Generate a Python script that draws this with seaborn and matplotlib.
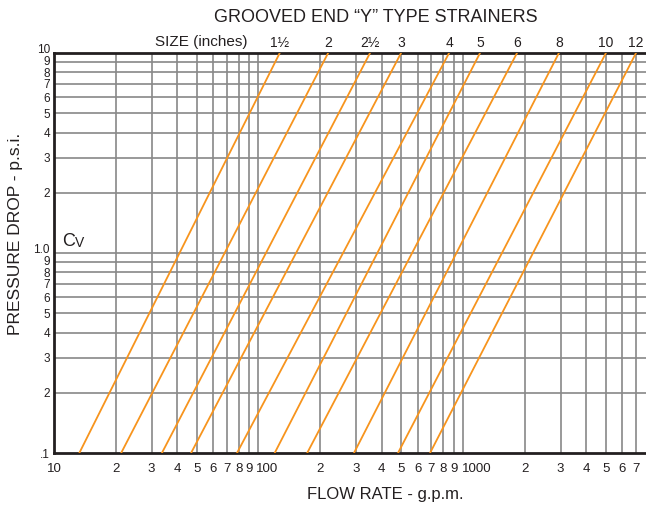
import pandas as pd
import seaborn as sns
from matplotlib import pyplot as plt
from matplotlib.ticker import NullLocator
from matplotlib.transforms import ScaledTranslation

# strainer sizes and flow (g.p.m.) read where each line meets 0.1 and 10 p.s.i.
sizes = ["1½", "2", "2½", "3", "4", "5", "6", "8", "10", "12"]
flow_at_low = [13.3, 21.3, 33.7, 46.8, 78.5, 120, 173, 293, 481, 690]
flow_at_high = [127, 219, 351, 498, 855, 1211, 1837, 2944, 5000, 7015]
drop_low = 0.1
drop_high = 10

x_ticks = [10, 20, 30, 40, 50, 60, 70, 80, 90,
           100, 200, 300, 400, 500, 600, 700, 800, 900,
           1000, 2000, 3000, 4000, 5000, 6000, 7000]
x_labels = ["10", "2", "3", "4", "5", "6", "7", "8", "9",
            "100", "2", "3", "4", "5", "6", "7", "8", "9",
            "1000", "2", "3", "4", "5", "6", "7"]
y_ticks = [0.1, 0.2, 0.3, 0.4, 0.5, 0.6, 0.7, 0.8, 0.9,
           1, 2, 3, 4, 5, 6, 7, 8, 9, 10]
y_labels = [".1", "2", "3", "4", "5", "6", "7", "8", "9",
            "1.0", "2", "3", "4", "5", "6", "7", "8", "9", "10"]

rows = []
for s, lo, hi in zip(sizes, flow_at_low, flow_at_high):
    rows.append({"size": s, "flow": lo, "drop": drop_low})
    rows.append({"size": s, "flow": hi, "drop": drop_high})
df = pd.DataFrame(rows)

sns.set_style("white")
plt.rcParams['font.family'] = ['Liberation Sans', 'DejaVu Sans']

fig = plt.figure(figsize=(6.46, 5.08), dpi=100)
ax = fig.add_axes([54 / 646, 55 / 508, 592 / 646, 400 / 508])
ax.set_xscale("log")
ax.set_yscale("log")

gray = "#888888"
for xv in x_ticks[1:]:
    ax.axvline(xv, color=gray, lw=1.2, zorder=1)
for yv in y_ticks[1:-1]:
    ax.axhline(yv, color=gray, lw=1.2, zorder=1)

sns.lineplot(data=df, x="flow", y="drop", units="size", estimator=None,
             sort=False, color="#F7941D", lw=1.3, ax=ax, zorder=3)

ax.set_xlim(10, 7850)
ax.set_ylim(0.1, 10)
ax.xaxis.set_minor_locator(NullLocator())
ax.yaxis.set_minor_locator(NullLocator())
ax.set_xticks(x_ticks, x_labels, fontsize=9.5)
ax.set_yticks(y_ticks, y_labels, fontsize=8.5)
ax.tick_params(axis="both", length=0, colors="#231f20")
ax.tick_params(axis="x", pad=7)
ax.tick_params(axis="y", pad=3)
ax.set_xlabel("")
ax.set_ylabel("")

# nudge crowded labels like the printed chart
for t in ax.get_xticklabels():
    if t.get_text() in ("100", "1000"):
        t.set_ha("left")
        dx = -2 / 72 if t.get_text() == "100" else -0.5 / 72
        t.set_transform(t.get_transform() + ScaledTranslation(dx, 0, fig.dpi_scale_trans))
for t in ax.get_yticklabels():
    shift = {"10": 3, "1.0": 3, "9": 1.5}.get(t.get_text(), 0)
    if shift:
        t.set_transform(t.get_transform() + ScaledTranslation(0, shift / 72, fig.dpi_scale_trans))

for side in ("left", "top", "bottom"):
    ax.spines[side].set_color("#231f20")
    ax.spines[side].set_linewidth(2)
ax.spines["right"].set_visible(False)

# size labels above the top edge
for s, hi in zip(sizes, flow_at_high):
    ax.text(hi, 1.026, s, transform=ax.get_xaxis_transform(), ha="center",
            va="center", fontsize=10, color="#231f20")

ax.text(0.014, 0.507, "C", transform=ax.transAxes, fontsize=13,
        va="bottom", color="#231f20")
ax.text(0.035, 0.507, "V", transform=ax.transAxes, fontsize=10,
        va="bottom", color="#231f20")

fig.text(376 / 646, 1 - 18 / 508, "GROOVED END \u201cY\u201d TYPE STRAINERS",
         ha="center", va="center", fontsize=13, color="#231f20")
fig.text(155 / 646, 1 - 42 / 508, "SIZE (inches)", ha="left", va="center",
         fontsize=11, color="#231f20")
fig.text(385 / 646, 1 - 495 / 508, "FLOW RATE - g.p.m.", ha="center",
         va="center", fontsize=12, color="#231f20")
fig.text(16 / 646, 1 - 234 / 508, "PRESSURE DROP - p.s.i.", ha="center",
         va="center", rotation=90, fontsize=12.5, color="#231f20")

plt.savefig("out.png")
